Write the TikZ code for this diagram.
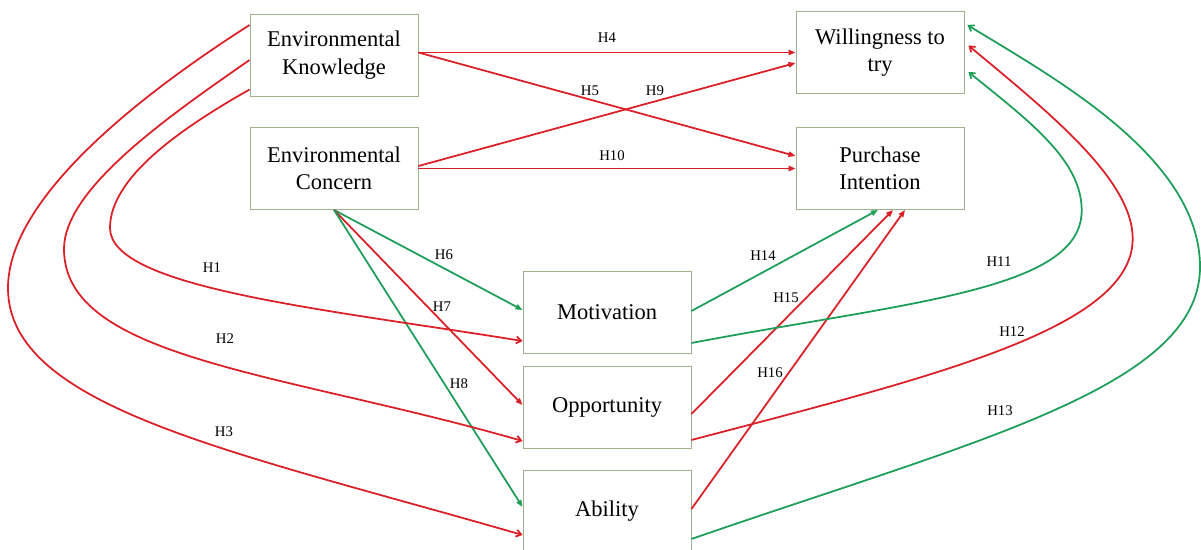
\documentclass[tikz,border=0pt]{standalone}
\usepackage{fontspec}
\setmainfont{Liberation Serif}
\usetikzlibrary{arrows.meta,calc}
\definecolor{boxline}{RGB}{160,178,140}
\definecolor{hred}{RGB}{218,32,38}
\definecolor{hgreen}{RGB}{28,158,88}
\tikzset{
  box/.style={draw=boxline, line width=0.6pt, minimum width=4.2cm, minimum height=2.05cm,
    align=center, inner sep=0pt, font=\fontsize{16}{19.5}\selectfont},
  redarrow/.style={draw=hred, line width=1.25pt, -{Triangle[length=5pt,width=3.8pt]}},
  greenarrow/.style={draw=hgreen, line width=1.25pt, -{Triangle[length=5pt,width=3.8pt]}},
  redcurve/.style={draw=hred, line width=1.25pt, -{Straight Barb[length=3.5pt,width=5pt]}},
  greencurve/.style={draw=hgreen, line width=1.25pt, -{Straight Barb[length=3.5pt,width=5pt]}},
  hlab/.style={inner sep=0pt, font=\fontsize{10.5}{12}\selectfont}
}
\begin{document}
\begin{tikzpicture}[x=0.025cm, y=-0.025cm]
  \useasboundingbox (0,0) rectangle (1201,550);
  % constructs
  \node[box] (ek) at (334,55) {Environmental\\Knowledge};
  \node[box] (ec) at (334,168.5) {Environmental\\Concern};
  \node[box] (wt) at (880,52.5) {Willingness to\\try};
  \node[box] (pi) at (880,168.5) {Purchase\\Intention};
  \node[box] (mo) at (607,312) {Motivation};
  \node[box] (op) at (607,407) {Opportunity};
  \node[box] (ab) at (607,511) {Ability};
  % direct paths
  \draw[redarrow] (ek.east |- wt.west) -- (wt.west);
  \draw[redarrow] (ek.east |- wt.west) -- ($(pi.west)+(0,-12.5)$);
  \draw[redarrow] ($(ec.east)+(0,-2.5)$) -- ($(wt.west)+(0,10.5)$);
  \draw[redarrow] (ec.east) -- (pi.west);
  \draw[greenarrow] (ec.south) -- ($(mo.west)+(0,-2)$);
  \draw[redarrow] (ec.south) -- ($(op.west)+(0,-2)$);
  \draw[greenarrow] (ec.south) -- ($(ab.west)+(0,-4)$);
  \draw[greenarrow] ($(mo.east)+(0,-1)$) -- ($(pi.south)+(-2,0)$);
  \draw[redarrow] ($(op.east)+(0,7)$) -- ($(pi.south)+(13,0)$);
  \draw[redarrow] ($(ab.east)+(0,-2)$) -- ($(pi.south)+(25,0)$);
  % left curves
  \draw[redcurve] ($(ek.west)+(0,34.5)$) .. controls (179,129.5) and (110,178) .. (110,228)
    .. controls (110,288) and (324.6,309) .. ($(mo.west)+(0,29)$);
  \draw[redcurve] ($(ek.west)+(0,5)$) .. controls (167.7,116.9) and (64,189) .. (64,249)
    .. controls (64,359) and (282,372) .. ($(op.west)+(0,34)$);
  \draw[redcurve] ($(ek.west)+(0,-30)$) .. controls (140.3,94.8) and (8,198) .. (8,288)
    .. controls (8,408) and (233.7,451.5) .. ($(ab.west)+(0,24)$);
  % right curves
  \draw[greencurve] ($(mo.east)+(0,31)$) .. controls (908.3,301.9) and (1081.7,290.5) .. (1081.7,210.5)
    .. controls (1081.7,160.5) and (1030.4,122) .. ($(wt.east)+(4,19.5)$);
  \draw[redcurve] ($(op.east)+(0,33)$) .. controls (933.8,376.3) and (1132.7,328.6) .. (1132.7,238.6)
    .. controls (1132.7,178.6) and (1045,109.4) .. ($(wt.east)+(4,-7)$);
  \draw[greencurve] ($(ab.east)+(0,28)$) .. controls (975.5,440.6) and (1200,387) .. (1200,267)
    .. controls (1200,157) and (1052.4,77.1) .. ($(wt.east)+(3,-27.5)$);
  % hypothesis labels
  \node[hlab] (l1) at (212,268) {H1};
  \node[hlab] (l2) at (225,339) {H2};
  \node[hlab] (l3) at (224,432) {H3};
  \node[hlab] (l4) at (607,38) {H4};
  \node[hlab] (l5) at (590,91) {H5};
  \node[hlab] (l6) at (444,255) {H6};
  \node[hlab] (l7) at (442,307) {H7};
  \node[hlab] (l8) at (459,384) {H8};
  \node[hlab] (l9) at (655,91) {H9};
  \node[hlab] (l10) at (612,156) {H10};
  \node[hlab] (l11) at (999,262) {H11};
  \node[hlab] (l12) at (1012,332) {H12};
  \node[hlab] (l13) at (1000,411) {H13};
  \node[hlab] (l14) at (763,256) {H14};
  \node[hlab] (l15) at (786,298) {H15};
  \node[hlab] (l16) at (770,373) {H16};
\end{tikzpicture}
\end{document}
